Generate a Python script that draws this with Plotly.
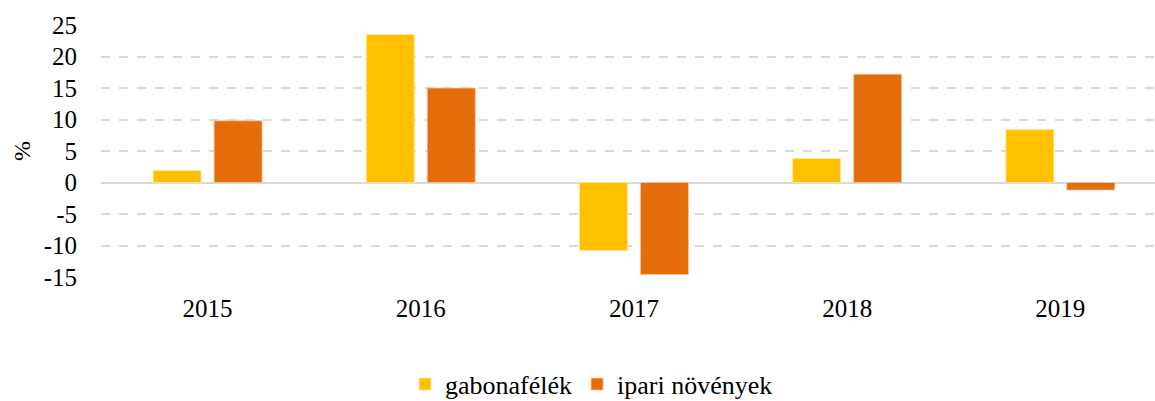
import plotly.graph_objects as go

years = ["2015", "2016", "2017", "2018", "2019"]
gabona = [1.9, 23.5, -10.8, 3.8, 8.4]
ipari = [9.8, 15.0, -14.6, 17.2, -1.2]
y_ticks = [-15, -10, -5, 0, 5, 10, 15, 20, 25]

FONT = "Liberation Serif"

fig = go.Figure()
fig.add_trace(go.Bar(x=years, y=gabona, name="gabonafélék",
                     marker=dict(color="#FFC000", line=dict(color="#FFE7A0", width=0.8))))
fig.add_trace(go.Bar(x=years, y=ipari, name="ipari növények",
                     marker=dict(color="#E46C0A", line=dict(color="#F5C7A4", width=0.8))))

fig.update_layout(
    width=1155, height=401,
    margin=dict(l=101, r=0, t=25, b=124),
    paper_bgcolor="white", plot_bgcolor="white",
    barmode="group", bargap=0.428, bargroupgap=0.213,
    font=dict(family=FONT, size=25, color="black"),
    showlegend=True,
    legend=dict(orientation="h", xref="container", yref="container",
                x=405 / 1155, xanchor="left", y=0.042, yanchor="middle",
                font=dict(family=FONT, size=26, color="black"),
                itemwidth=30, traceorder="normal"),
    xaxis=dict(range=[-0.5, 4.444], showgrid=False, showline=False, zeroline=False,
               ticks="", ticklabelstandoff=14, tickfont=dict(family=FONT, size=25)),
    yaxis=dict(range=[-15, 25], tickvals=y_ticks, ticktext=[str(v) for v in y_ticks],
               showgrid=True, gridcolor="#D9D9D9", griddash="dash", gridwidth=1.5,
               zeroline=True, zerolinecolor="#D9D9D9", zerolinewidth=2,
               showline=False, ticks="", ticklabelstandoff=23,
               tickfont=dict(family=FONT, size=25),
               title=dict(text="%", font=dict(family=FONT, size=24), standoff=6)),
)

fig.write_html("out.html", config={"displayModeBar": False},
               post_script="document.body.style.margin='0';document.body.style.padding='0';")
